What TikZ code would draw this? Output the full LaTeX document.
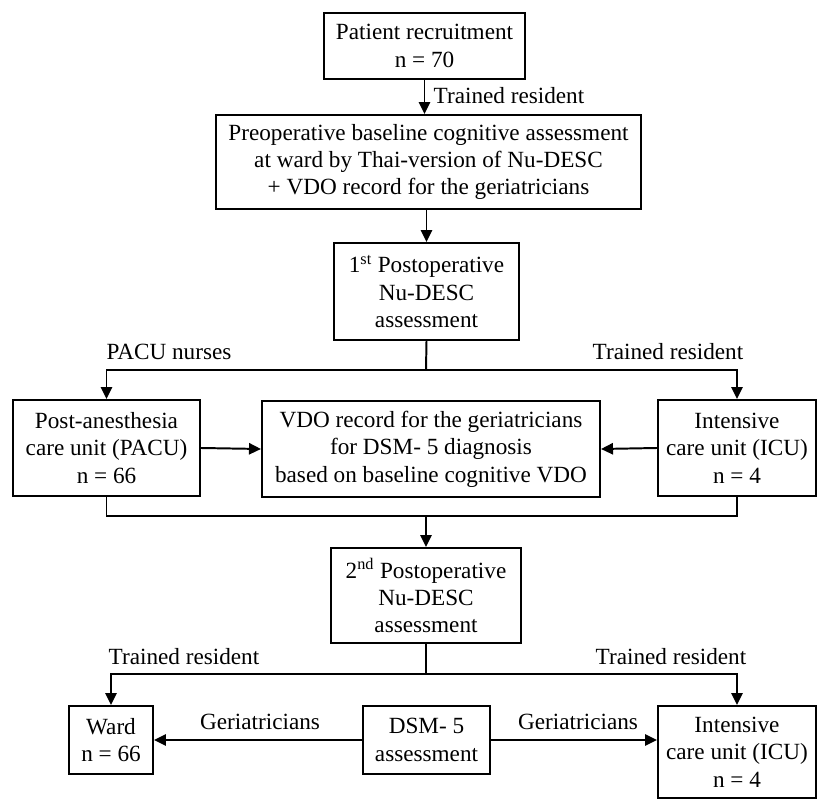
\documentclass[tikz,border=0pt]{standalone}
\usepackage{fontspec}
\setmainfont{Liberation Serif}
\usetikzlibrary{arrows.meta}

\begin{document}
\begin{tikzpicture}[x=0.025cm, y=-0.025cm,
    box/.style={draw, line width=1.4pt, align=center, inner sep=0pt, font=\fontsize{16.5}{19.5}\selectfont},
    arr/.style={line width=1.4pt, -{Triangle[length=8.5pt,width=8pt]}},
    lnk/.style={line width=1.4pt},
    lbl/.style={font=\fontsize{16.5}{19.5}\selectfont}]
    \useasboundingbox (0,0) rectangle (817,799);

    % Boxes
    \node[box, minimum width=5.025cm, minimum height=1.65cm] (recruit) at (424.5,46) {Patient recruitment\\n = 70};
    \node[box, minimum width=10.625cm, minimum height=2.35cm] (preop) at (428.5,162) {Preoperative baseline cognitive assessment\\at ward by Thai-version of Nu-DESC\\+ VDO record for the geriatricians};
    \node[box, minimum width=4.625cm, minimum height=2.425cm] (post1) at (426.5,291.5) {1\textsuperscript{st} Postoperative\\Nu-DESC\\assessment};
    \node[box, minimum width=4.675cm, minimum height=2.4cm] (pacu) at (106.5,448) {Post-anesthesia\\care unit (PACU)\\n = 66};
    \node[box, minimum width=8.45cm, minimum height=2.4cm] (vdo) at (431,449) {VDO record for the geriatricians\\for DSM- 5 diagnosis\\based on baseline cognitive VDO};
    \node[box, minimum width=3.95cm, minimum height=2.4cm] (icu) at (737,448) {Intensive\\care unit (ICU)\\n = 4};
    \node[box, minimum width=4.75cm, minimum height=2.375cm] (post2) at (426,595.5) {2\textsuperscript{nd} Postoperative\\Nu-DESC\\assessment};
    \node[box, minimum width=2.1cm, minimum height=1.7cm] (ward) at (111,740) {Ward\\n = 66};
    \node[box, minimum width=3.175cm, minimum height=1.7cm] (dsm) at (426.5,740) {DSM- 5\\assessment};
    \node[box, minimum width=3.95cm, minimum height=2.3cm] (icu2) at (737,752) {Intensive\\care unit (ICU)\\n = 4};

    % Junctions
    \coordinate (j1) at (426,370);
    \coordinate (j2) at (426,516);
    \coordinate (j3) at (426,674);

    % Connectors
    \draw[arr] (recruit.south) -- (recruit.south |- preop.north);
    \draw[arr] (post1.north |- preop.south) -- (post1.north);
    \draw[lnk] (post1.south) -- (j1);
    \draw[arr] (j1) -| (pacu.north);
    \draw[arr] (j1) -| (icu.north);
    \draw[arr] (pacu.east) -- (vdo.west);
    \draw[arr] (icu.west) -- (vdo.east);
    \draw[lnk] (pacu.south) |- (j2) -| (icu.south);
    \draw[arr] (j2) -- (post2.north);
    \draw[lnk] (post2.south) -- (j3);
    \draw[arr] (j3) -| (ward.north);
    \draw[arr] (j3) -| (icu2.north);
    \draw[arr] (dsm.west) -- (ward.east);
    \draw[arr] (dsm.east) -- (icu2.west |- dsm.east);

    % Labels
    \node[lbl] (trres1) at (509,96) {Trained resident};
    \node[lbl] (nurses) at (169,352) {PACU nurses};
    \node[lbl] (trres2) at (668,352) {Trained resident};
    \node[lbl] (trres3) at (184,657) {Trained resident};
    \node[lbl] (trres4) at (671,657) {Trained resident};
    \node[lbl] (geri1) at (260,722) {Geriatricians};
    \node[lbl] (geri2) at (578,722) {Geriatricians};
\end{tikzpicture}
\end{document}
